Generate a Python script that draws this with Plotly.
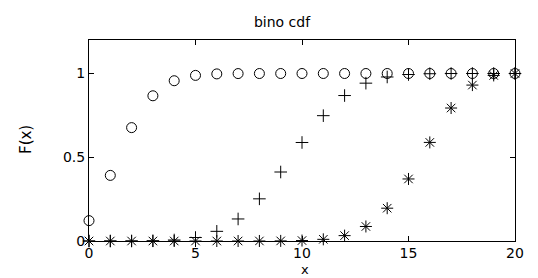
import plotly.graph_objects as go

x = list(range(21))
cdf_p01 = [0.1216, 0.3917, 0.6769, 0.8670, 0.9568, 0.9887, 0.9976, 0.9996, 0.9999, 1.0, 1.0,
           1.0, 1.0, 1.0, 1.0, 1.0, 1.0, 1.0, 1.0, 1.0, 1.0]
cdf_p05 = [0.0, 0.0, 0.0002, 0.0013, 0.0059, 0.0207, 0.0577, 0.1316, 0.2517, 0.4119, 0.5881,
           0.7483, 0.8684, 0.9423, 0.9793, 0.9941, 0.9987, 0.9998, 1.0, 1.0, 1.0]
cdf_p08 = [0.0, 0.0, 0.0, 0.0, 0.0, 0.0, 0.0, 0.0, 0.0001, 0.0006, 0.0026,
           0.0100, 0.0321, 0.0867, 0.1958, 0.3704, 0.5886, 0.7939, 0.9308, 0.9885, 1.0]

xticks = [0, 5, 10, 15, 20]
yticks = [0, 0.5, 1]
ytick_labels = ["0", "0.5", "1"]
title_text = "bino cdf"
xlabel = "x"
ylabel = "F(x)"

fig = go.Figure()
fig.add_trace(go.Scatter(x=x, y=cdf_p01, mode="markers", cliponaxis=False,
                         marker=dict(symbol="circle-open", size=10, color="black",
                                     line=dict(width=1, color="black"))))
fig.add_trace(go.Scatter(x=x, y=cdf_p05, mode="markers", cliponaxis=False,
                         marker=dict(symbol="cross-thin-open", size=9, color="black",
                                     line=dict(width=1, color="black"))))
fig.add_trace(go.Scatter(x=x, y=cdf_p08, mode="markers", cliponaxis=False,
                         marker=dict(symbol="asterisk-open", size=10, color="black",
                                     line=dict(width=1, color="black"))))

font = dict(family="DejaVu Sans, Arial, sans-serif", size=15, color="black")
tick_font = dict(family="DejaVu Sans, Arial, sans-serif", size=14, color="black")
label_font = dict(family="DejaVu Sans, Arial, sans-serif", size=15, color="black")
fig.update_layout(
    width=538, height=278,
    margin=dict(l=89, r=23, t=40, b=37, autoexpand=False),
    paper_bgcolor="white", plot_bgcolor="white",
    showlegend=False,
    font=font,
    title=dict(text=title_text, x=282 / 538, xanchor="center", y=1 - 22 / 278, yanchor="middle",
               font=dict(family="DejaVu Sans, Arial, sans-serif", size=14, color="black")),
    annotations=[
        dict(text=xlabel, xref="paper", yref="paper", x=(305 - 89) / 426, y=(241 - 278) / 201,
             xanchor="center", yanchor="bottom", showarrow=False, borderpad=0,
             font=dict(family="DejaVu Sans, Arial, sans-serif", size=13, color="black")),
        dict(text=ylabel, xref="paper", yref="paper", x=(26 - 89) / 426, y=(241 - 140) / 201,
             xanchor="center", yanchor="middle", showarrow=False, textangle=-90, font=label_font),
    ],
)
fig.update_xaxes(range=[0, 20], tickvals=xticks, ticktext=[str(v) for v in xticks],
                 ticks="inside", ticklen=5, tickcolor="black", tickwidth=1, tickfont=tick_font,
                 showline=True, linecolor="black", linewidth=1, mirror="ticks",
                 showgrid=False, zeroline=False, automargin=False, ticklabelstandoff=-1)
fig.update_yaxes(range=[0, 1.2], tickvals=yticks, ticktext=ytick_labels,
                 ticks="inside", ticklen=5, tickcolor="black", tickwidth=1, tickfont=tick_font,
                 showline=True, linecolor="black", linewidth=1, mirror="ticks",
                 showgrid=False, zeroline=False, automargin=False)
fig.write_html("out.html", config={"displayModeBar": False},
               post_script="document.body.style.margin='0px';")
